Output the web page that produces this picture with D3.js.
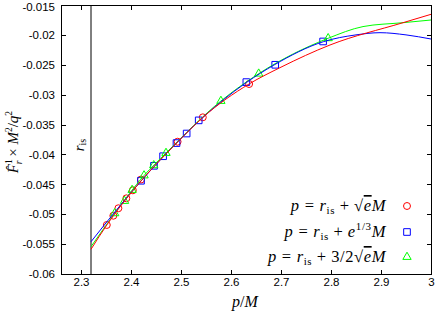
<!DOCTYPE html>
<html><head><meta charset="utf-8">
<script src="https://cdn.jsdelivr.net/npm/d3@7/dist/d3.min.js"></script>
<style>body{margin:0;background:#fff}svg{display:block}</style>
</head><body>
<svg id="c" width="436" height="313"></svg>
<script>
// ---- data ----
const rIs = 2.32;
const xTicks = [2.3, 2.4, 2.5, 2.6, 2.7, 2.8, 2.9, 3];
const yTicks = [-0.015, -0.02, -0.025, -0.03, -0.035, -0.04, -0.045, -0.05, -0.055, -0.06];

// p = r_is + sqrt(e) M  (red circles)
const redP = [2.3516, 2.3647, 2.3748, 2.3907, 2.4037, 2.42, 2.4932, 2.5436, 2.6362];
const redV = [-0.0518, -0.05025, -0.0490, -0.04734, -0.0460, -0.0442, -0.03787, -0.03379, -0.02822];
// p = r_is + e^{1/3} M  (blue squares)
const blueP = [2.42, 2.446, 2.4642, 2.491, 2.5113, 2.5354, 2.6307, 2.6884, 2.7842];
const blueV = [-0.0444, -0.0419, -0.0403, -0.0381, -0.0365, -0.0343, -0.0279, -0.0250, -0.0211];
// p = r_is + 3/2 sqrt(e) M  (green triangles)
const greenP = [2.3674, 2.3871, 2.4022, 2.4261, 2.4455, 2.47, 2.5798, 2.6554, 2.7943];
const greenV = [-0.04985, -0.04779, -0.04595, -0.04352, -0.04182, -0.03976, -0.03106, -0.02649, -0.02057];

// fitted curves
const redCurveP = [2.32, 2.3516, 2.404, 2.494, 2.544, 2.636, 2.7, 2.798, 2.944, 3.0];
const redCurveV = [-0.05587, -0.0518, -0.04603, -0.03787, -0.03379, -0.02822, -0.0254, -0.02169, -0.01796, -0.01656];
const blueCurveP = [2.32, 2.4206, 2.4914, 2.537, 2.6314, 2.686, 2.7846, 2.85, 2.898, 2.95, 3.0];
const blueCurveV = [-0.0546, -0.04439, -0.03808, -0.03432, -0.02793, -0.02504, -0.02114, -0.0200, -0.01963, -0.0200, -0.02069];
const greenCurveP = [2.32, 2.3674, 2.4261, 2.47, 2.5798, 2.6554, 2.7943, 2.864, 2.944, 3.0];
const greenCurveV = [-0.05543, -0.04985, -0.04352, -0.03976, -0.03106, -0.02649, -0.02057, -0.01861, -0.01796, -0.01751];

// ---- chart ----
const svg = d3.select('#c');
const L = 61, R = 431, T = 5, B = 274;
const x = d3.scaleLinear([2.26, 3], [L, R]);
const y = d3.scaleLinear([-0.06, -0.015], [B, T]);
const RED = '#ff0000', BLUE = '#0000ff', GREEN = '#00ff00';
const sansFont = '"Liberation Sans", Arial, sans-serif';
const serif = '"Liberation Serif", "DejaVu Serif", serif';

function styleAxis(g) {
  g.select('.domain').remove();
  g.selectAll('.tick line').attr('stroke', '#000').attr('shape-rendering', 'crispEdges');
  g.selectAll('text').attr('font-family', sansFont).attr('font-size', 11.5).attr('fill', '#000');
}
// bottom / left with labels
svg.append('g').attr('transform', `translate(0,${B})`)
  .call(d3.axisBottom(x).tickValues(xTicks).tickSize(-4.5).tickPadding(4).tickFormat(d => String(d)))
  .call(styleAxis);
const yAx = svg.append('g').attr('transform', `translate(${L},0)`)
  .call(d3.axisLeft(y).tickValues(yTicks).tickSize(-4.5).tickPadding(6).tickFormat(d => String(d)))
  .call(styleAxis);
// keep the topmost label inside the picture
yAx.selectAll('.tick text').filter(d => d === yTicks[0]).attr('dy', '0.45em');
// mirrored ticks
svg.append('g').attr('transform', `translate(0,${T})`)
  .call(d3.axisTop(x).tickValues(xTicks).tickSize(-4.5).tickFormat(''))
  .call(styleAxis);
svg.append('g').attr('transform', `translate(${R},0)`)
  .call(d3.axisRight(y).tickValues(yTicks).tickSize(-4.5).tickFormat(''))
  .call(styleAxis);

// frame
svg.append('rect').attr('x', L + 0.5).attr('y', T + 0.5).attr('width', R - L).attr('height', B - T)
  .attr('fill', 'none').attr('stroke', '#000').attr('stroke-width', 1).attr('shape-rendering', 'crispEdges');

// r_is vertical line
svg.append('line').attr('x1', x(rIs)).attr('x2', x(rIs)).attr('y1', T).attr('y2', B)
  .attr('stroke', '#000').attr('stroke-width', 1);
const ris = svg.append('text').attr('transform', `translate(${x(rIs) - 7},145) rotate(-90)`)
  .attr('text-anchor', 'middle').attr('font-family', serif).attr('font-size', 15);
ris.append('tspan').attr('font-style', 'italic').text('r');
ris.append('tspan').attr('font-size', 10).attr('dy', 2).text('is');

// curves
const line = d3.line().x(d => x(d[0])).y(d => y(d[1])).curve(d3.curveMonotoneX);
function drawCurve(P, V, color) {
  svg.append('path').datum(P.map((p, i) => [p, V[i]]))
    .attr('d', line).attr('fill', 'none').attr('stroke', color).attr('stroke-width', 1);
}
// points
function drawPoints(P, V, color, sym, size) {
  svg.append('g').selectAll('path').data(P.map((p, i) => [p, V[i]])).join('path')
    .attr('transform', d => `translate(${x(d[0])},${y(d[1])})`)
    .attr('d', d3.symbol(sym, size)).attr('fill', 'none').attr('stroke', color).attr('stroke-width', 1);
}
drawPoints(redP, redV, RED, d3.symbolCircle, 38);
drawPoints(blueP, blueV, BLUE, d3.symbolSquare, 44);
drawPoints(greenP, greenV, GREEN, d3.symbolTriangle, 30);
drawCurve(greenCurveP, greenCurveV, GREEN);
drawCurve(blueCurveP, blueCurveV, BLUE);
drawCurve(redCurveP, redCurveV, RED);

// axis labels
const xl = svg.append('text').attr('x', 245).attr('y', 307).attr('text-anchor', 'middle')
  .attr('font-family', serif).attr('font-size', 16);
xl.append('tspan').attr('font-style', 'italic').text('p');
xl.append('tspan').text('/');
xl.append('tspan').attr('font-style', 'italic').text('M');

const yl = svg.append('text').attr('transform', 'translate(18,142) rotate(-90)').attr('text-anchor', 'middle')
  .attr('font-family', serif).attr('font-size', 15);
yl.append('tspan').attr('font-style', 'italic').text('F\u0302');
yl.append('tspan').attr('font-size', 9.5).attr('dy', -6).text('1');
yl.append('tspan').attr('font-size', 9.5).attr('font-style', 'italic').attr('dx', -5).attr('dy', 10).text('r');
yl.append('tspan').attr('dy', -4).text(' \u00d7 ');
yl.append('tspan').attr('font-style', 'italic').text('M');
yl.append('tspan').attr('font-size', 9.5).attr('dy', -6).text('2');
yl.append('tspan').attr('dy', 6).text('/');
yl.append('tspan').attr('font-style', 'italic').text('q');
yl.append('tspan').attr('font-size', 9.5).attr('dy', -6).text('2');

// legend
const legendRows = [
  {color: RED, sym: d3.symbolCircle, size: 38, y: 206, kind: 0},
  {color: BLUE, sym: d3.symbolSquare, size: 44, y: 232, kind: 1},
  {color: GREEN, sym: d3.symbolTriangle, size: 30, y: 257, kind: 2}
];
legendRows.forEach(r => {
  const t = svg.append('text').attr('x', 386).attr('y', r.y + 5).attr('text-anchor', 'end')
    .attr('font-family', serif).attr('font-size', 16.5).attr('letter-spacing', 0.6);
  t.append('tspan').attr('font-style', 'italic').text('p');
  t.append('tspan').attr('dx', 5).text('=');
  t.append('tspan').attr('dx', 5).attr('font-style', 'italic').text('r');
  t.append('tspan').attr('font-size', 11).attr('dy', 3).text('is');
  t.append('tspan').attr('dy', -3).attr('dx', 4.5).text('+');
  if (r.kind === 0) {
    t.append('tspan').attr('dx', 4.5).text('\u221a');
    t.append('tspan').attr('font-style', 'italic').attr('text-decoration', 'overline').text('e');
    t.append('tspan').attr('font-style', 'italic').text('M');
  } else if (r.kind === 1) {
    t.append('tspan').attr('dx', 4.5).attr('font-style', 'italic').text('e');
    t.append('tspan').attr('font-size', 11).attr('dy', -7).text('1/3');
    t.append('tspan').attr('dy', 7).attr('font-style', 'italic').text('M');
  } else {
    t.append('tspan').attr('dx', 4.5).text('3/2\u221a');
    t.append('tspan').attr('font-style', 'italic').attr('text-decoration', 'overline').text('e');
    t.append('tspan').attr('font-style', 'italic').text('M');
  }
  svg.append('path').attr('transform', `translate(407,${r.y})`)
    .attr('d', d3.symbol(r.sym, r.size)).attr('fill', 'none').attr('stroke', r.color).attr('stroke-width', 1);
});
</script>
</body></html>
